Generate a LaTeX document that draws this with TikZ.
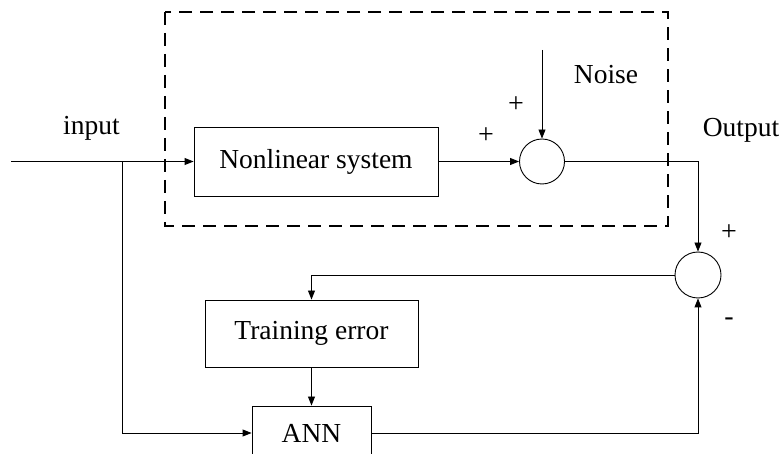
\documentclass[tikz,border=0pt]{standalone}
\usepackage{fontspec}
\setmainfont{Liberation Serif}
\usetikzlibrary{arrows.meta}
\begin{document}
\begin{tikzpicture}[x=1pt,y=-1pt,
  blk/.style={draw,line width=0.9pt,inner sep=0pt,font=\fontsize{27.5}{30}\selectfont},
  sumj/.style={draw,circle,line width=0.9pt,inner sep=0pt},
  wire/.style={line width=0.9pt},
  arr/.style={wire,-{Triangle[length=9pt,width=7pt]}},
  lbl/.style={font=\fontsize{27.5}{30}\selectfont,inner sep=0pt},
  sgn/.style={font=\fontsize{28}{30}\selectfont,inner sep=0pt}]
\useasboundingbox (0,0) rectangle (780,454);
\clip (0,0) rectangle (780,454);
% dashed enclosure
\draw[line width=1.4pt,dash pattern=on 13pt off 8pt] (165,12) rectangle (668,226);
% blocks
\node[blk,minimum width=244pt,minimum height=69pt] (nl) at (316,161.5) {Nonlinear system};
\node[sumj,minimum size=45pt] (s1) at (542,161.5) {};
\node[sumj,minimum size=46pt] (s2) at (698,275) {};
\node[blk,minimum width=213pt,minimum height=67pt] (te) at (311.5,333.5) {Training error};
\node[blk,minimum width=119pt,minimum height=54pt] (ann) at (311.5,433) {ANN};
% coordinates
\coordinate (in) at (11,161.5);
\coordinate (br) at (122,161.5);
\coordinate (nz) at (542,50);
% connectors
\draw[wire] (in) -- (br);
\draw[arr] (br) -- (nl.west);
\draw[arr] (br) |- (ann.west);
\draw[arr] (nl.east) -- (s1.west);
\draw[arr] (nz) -- (s1.north);
\draw[arr] (s1.east) -| (s2.north);
\draw[arr] (s2.west) -| (te.north);
\draw[arr] (te.south) -- (ann.north);
\draw[arr] (ann.east) -| (s2.south);
% labels
\node[lbl] (lin) at (91.5,128) {input};
\node[lbl] (lout) at (741,130) {Output};
\node[lbl] (lnz) at (606,75) {Noise};
\node[sgn] (p1) at (486,136) {+};
\node[sgn] (p2) at (516,105) {+};
\node[sgn] (p3) at (729,233) {+};
\node[sgn] (m1) at (729,322) {-};
\end{tikzpicture}
\end{document}
